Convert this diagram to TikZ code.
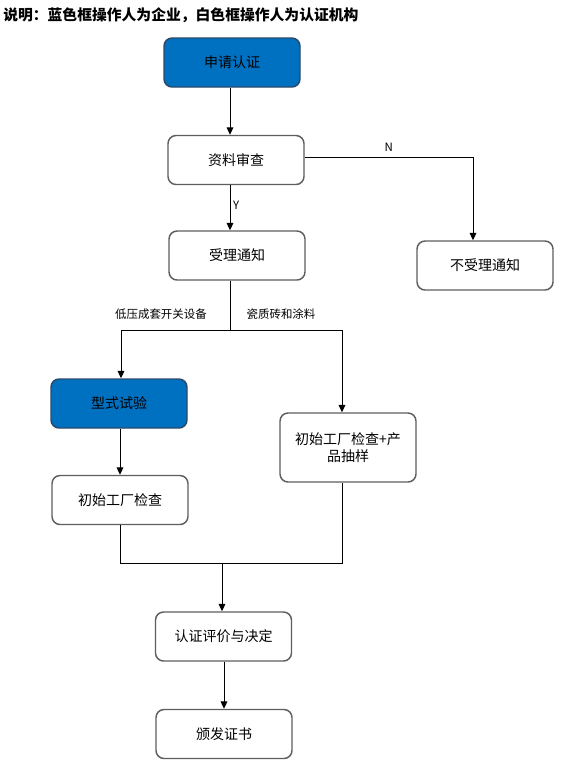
\documentclass[tikz,border=0pt]{standalone}
\usepackage{fontspec}
\setmainfont{Noto Sans CJK SC}
\usetikzlibrary{arrows.meta}
\definecolor{bluefill}{HTML}{0070C0}
\definecolor{blueedge}{HTML}{2A4A6A}
\definecolor{greyedge}{HTML}{5E5E5E}
\tikzset{
  box/.style={draw=greyedge, line width=1.1pt, rounded corners=6pt, fill=white,
    minimum width=102pt, minimum height=36.75pt, inner sep=0pt, align=center,
    font=\fontsize{10.5pt}{13pt}\selectfont},
  bluebox/.style={box, draw=blueedge, fill=bluefill},
  conn/.style={line width=0.75pt, draw=black},
  arr/.style={conn, -{Triangle[width=5pt,length=5.5pt]}},
  lbl/.style={font=\fontsize{8.6pt}{10pt}\selectfont, inner sep=0pt},
}
\begin{document}
\begin{tikzpicture}[x=0.75pt,y=-0.75pt]
\useasboundingbox (0,0) rectangle (563,765);
\node[anchor=west, inner sep=0pt, font=\fontsize{11.1pt}{13pt}\selectfont\bfseries] (title) at (3,15) {说明：蓝色框操作人为企业，白色框操作人为认证机构};
\node[bluebox] (a) at (232,62.5) {申请认证};
\node[box] (b) at (236,160) {资料审查};
\node[box] (c) at (237,255.5) {受理通知};
\node[box] (d) at (485,265.5) {不受理通知};
\node[bluebox] (e) at (119,403.5) {型式试验};
\node[box, minimum height=51.75pt] (f) at (348,447.5) {初始工厂检查+产\\品抽样};
\node[box] (g) at (120,500) {初始工厂检查};
\node[box] (h) at (223.5,636.5) {认证评价与决定};
\node[box] (i) at (224,734) {颁发证书};
% junction coordinates
\coordinate (col) at (230,0);
\coordinate (nx) at (473,0);
\coordinate (split) at (230,330);
\coordinate (sl) at (121,330);
\coordinate (sr) at (342,330);
\coordinate (merge) at (222,563);
\coordinate (ml) at (120,563);
\coordinate (mr) at (342,563);
% connectors
\draw[arr] (a.south -| col) -- (b.north -| col);
\draw[arr] (b.south -| col) -- node[lbl, right=2pt, pos=0.45] {Y} (c.north -| col);
\draw[arr] (b.east |- 0,157) -- node[lbl, above=4pt, pos=0.5] {N} (nx |- 0,157) -- (d.north -| nx);
\draw[conn] (c.south -| col) -- (split);
\draw[conn] (sl) -- (sr);
\draw[arr] (sl) -- (e.north -| sl);
\draw[arr] (sr) -- (f.north -| sr);
\draw[arr] (e.south -| ml) -- (g.north -| ml);
\draw[conn] (g.south -| ml) -- (ml) -- (mr) -- (f.south -| mr);
\draw[arr] (merge) -- (h.north -| merge);
\draw[arr] (h.south -| i.north) -- (i.north);
\node[lbl] (l1) at (161,314) {低压成套开关设备};
\node[lbl] (l2) at (281,314) {瓷质砖和涂料};
\end{tikzpicture}
\end{document}
